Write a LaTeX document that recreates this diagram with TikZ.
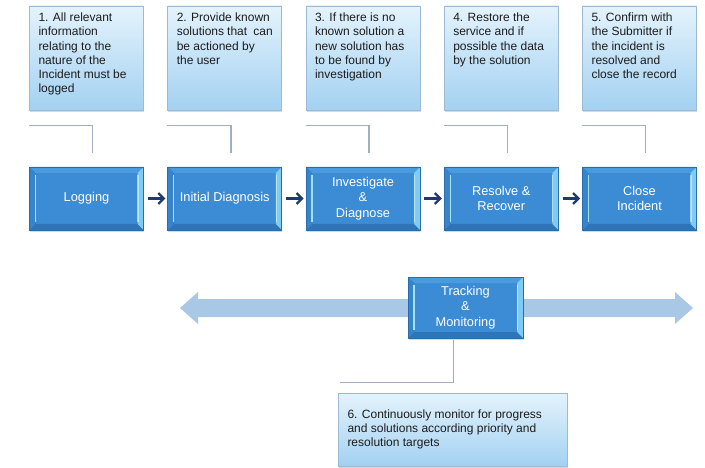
\documentclass[tikz,border=0pt]{standalone}
\usepackage{fontspec}
\setmainfont{Liberation Sans}
\usetikzlibrary{calc,shadows,arrows.meta}

\definecolor{notetop}{HTML}{E4F3FC}
\definecolor{notebot}{HTML}{A3D1F2}
\definecolor{noteedge}{HTML}{9CBAD4}
\definecolor{notetext}{HTML}{1C1C1C}
\definecolor{procfill}{HTML}{3B8CD4}
\definecolor{procedge}{HTML}{2B6DAB}
\definecolor{bevtop}{HTML}{4A9BDD}
\definecolor{bevbot}{HTML}{2D74B8}
\definecolor{bevleft}{HTML}{3584CC}
\definecolor{bevright}{HTML}{7ECCF4}
\definecolor{bevline}{HTML}{A4E2FB}
\definecolor{flowcol}{HTML}{1F3A6E}
\definecolor{elbowcol}{HTML}{A0AFBF}
\definecolor{bandcol}{HTML}{A8C8E6}

\newcommand\notebody[2]{\parbox[c][#1][t]{96pt}{\raggedright #2}}

\tikzset{
  note/.style={draw=noteedge, line width=0.8pt, top color=notetop, bottom color=notebot,
    drop shadow={opacity=0.3, shadow xshift=0.6pt, shadow yshift=-1.8pt},
    inner xsep=9pt, inner ysep=7pt, text=notetext,
    font=\fontsize{12}{14.2}\selectfont},
  proc/.style={fill=procfill, draw=procedge, line width=0.6pt,
    minimum width=114pt, minimum height=63pt, inner sep=0pt,
    text=white, align=center, font=\fontsize{12.8}{15.5}\selectfont,
    drop shadow={opacity=0.3, shadow xshift=0.6pt, shadow yshift=-1.8pt},
    path picture={
      \coordinate (bNW) at (path picture bounding box.north west);
      \coordinate (bNE) at (path picture bounding box.north east);
      \coordinate (bSW) at (path picture bounding box.south west);
      \coordinate (bSE) at (path picture bounding box.south east);
      \fill[bevtop] (bNW) -- (bNE) -- ([xshift=-6pt,yshift=-6pt]bNE) -- ([xshift=6pt,yshift=-6pt]bNW) -- cycle;
      \fill[bevbot] (bSW) -- (bSE) -- ([xshift=-6pt,yshift=6pt]bSE) -- ([xshift=6pt,yshift=6pt]bSW) -- cycle;
      \fill[bevleft] (bNW) -- ([xshift=6pt,yshift=-6pt]bNW) -- ([xshift=6pt,yshift=6pt]bSW) -- (bSW) -- cycle;
      \fill[bevright] (bNE) -- ([xshift=-6pt,yshift=-6pt]bNE) -- ([xshift=-6pt,yshift=6pt]bSE) -- (bSE) -- cycle;
      \draw[bevline, line width=1.4pt] ([xshift=6pt,yshift=-8pt]bNW) -- ([xshift=6pt,yshift=8pt]bSW);
      \draw[white, opacity=0.5, line width=1.2pt] ([xshift=-5.5pt,yshift=-8pt]bNE) -- ([xshift=-5.5pt,yshift=8pt]bSE);
    }},
  flow/.style={draw=flowcol, line width=2.3pt, -{Straight Barb[length=5.5pt,width=11pt]},
    shorten <=4pt, shorten >=2pt},
  elbow/.style={draw=elbowcol, line width=1.5pt},
  band/.style={fill=bandcol}
}

\begin{document}
\begin{tikzpicture}[x=1pt,y=-1pt]
\useasboundingbox (0,0) rectangle (705,468);
\fill[white] (0,0) rectangle (705,468);

% explanatory notes above the process steps
\node[note] (n1) at (86.5,58) {\notebody{90pt}{1. All relevant\\ information\\ relating to the\\ nature of the\\ Incident must be\\ logged}};
\node[note] (n2) at (224.75,58) {\notebody{90pt}{2. Provide known\\ solutions that\ \ can\\ be actioned by\\ the user}};
\node[note] (n3) at (363,58) {\notebody{90pt}{3. If there is no\\ known solution a\\ new solution has\\ to be found by\\ investigation}};
\node[note] (n4) at (501.25,58) {\notebody{90pt}{4. Restore the\\ service and if\\ possible the data\\ by the solution}};
\node[note] (n5) at (639.5,58) {\notebody{90pt}{5. Confirm with\\ the Submitter if\\ the incident is\\ resolved and\\ close the record}};

% process steps
\node[proc] (p1) at (86.5,198.5) {Logging};
\node[proc] (p2) at (224.75,198.5) {Initial Diagnosis};
\node[proc] (p3) at (363,198.5) {Investigate\\ \&\\ Diagnose};
\node[proc] (p4) at (501.25,198.5) {Resolve \&\\ Recover};
\node[proc] (p5) at (639.5,198.5) {Close\\ Incident};

% flow between steps
\draw[flow] (p1) -- (p2);
\draw[flow] (p2) -- (p3);
\draw[flow] (p3) -- (p4);
\draw[flow] (p4) -- (p5);

% elbow links from notes to steps
\foreach \i in {1,...,5}{
  \coordinate (ea\i) at ($(n\i.south west)+(0,15)$);
  \coordinate (eb\i) at ($(p\i.north)+(6,-14)$);
  \draw[elbow] (ea\i) -| (eb\i);
}

% ongoing tracking band
\fill[band] (180,308) -- (198,292) -- (198,299) -- (675,299) -- (675,292)
  -- (693,308) -- (675,324) -- (675,317) -- (198,317) -- (198,324) -- cycle;
\node[proc, minimum width=115pt, minimum height=61pt] (trk) at (465.5,307.5) {Tracking\\ \&\\ Monitoring};

% monitoring note
\node[note, minimum width=229pt, minimum height=73pt, inner ysep=0pt, align=left] (mon) at (452.5,429.5)
  {\parbox{210pt}{\raggedright 6. Continuously monitor for progress\\ and solutions according priority and\\ resolution targets}};
\coordinate (ma) at ($(trk.south)+(-12,2)$);
\coordinate (mb) at ($(mon.north west)+(2,-10)$);
\draw[elbow] (ma) |- (mb);
\end{tikzpicture}
\end{document}
